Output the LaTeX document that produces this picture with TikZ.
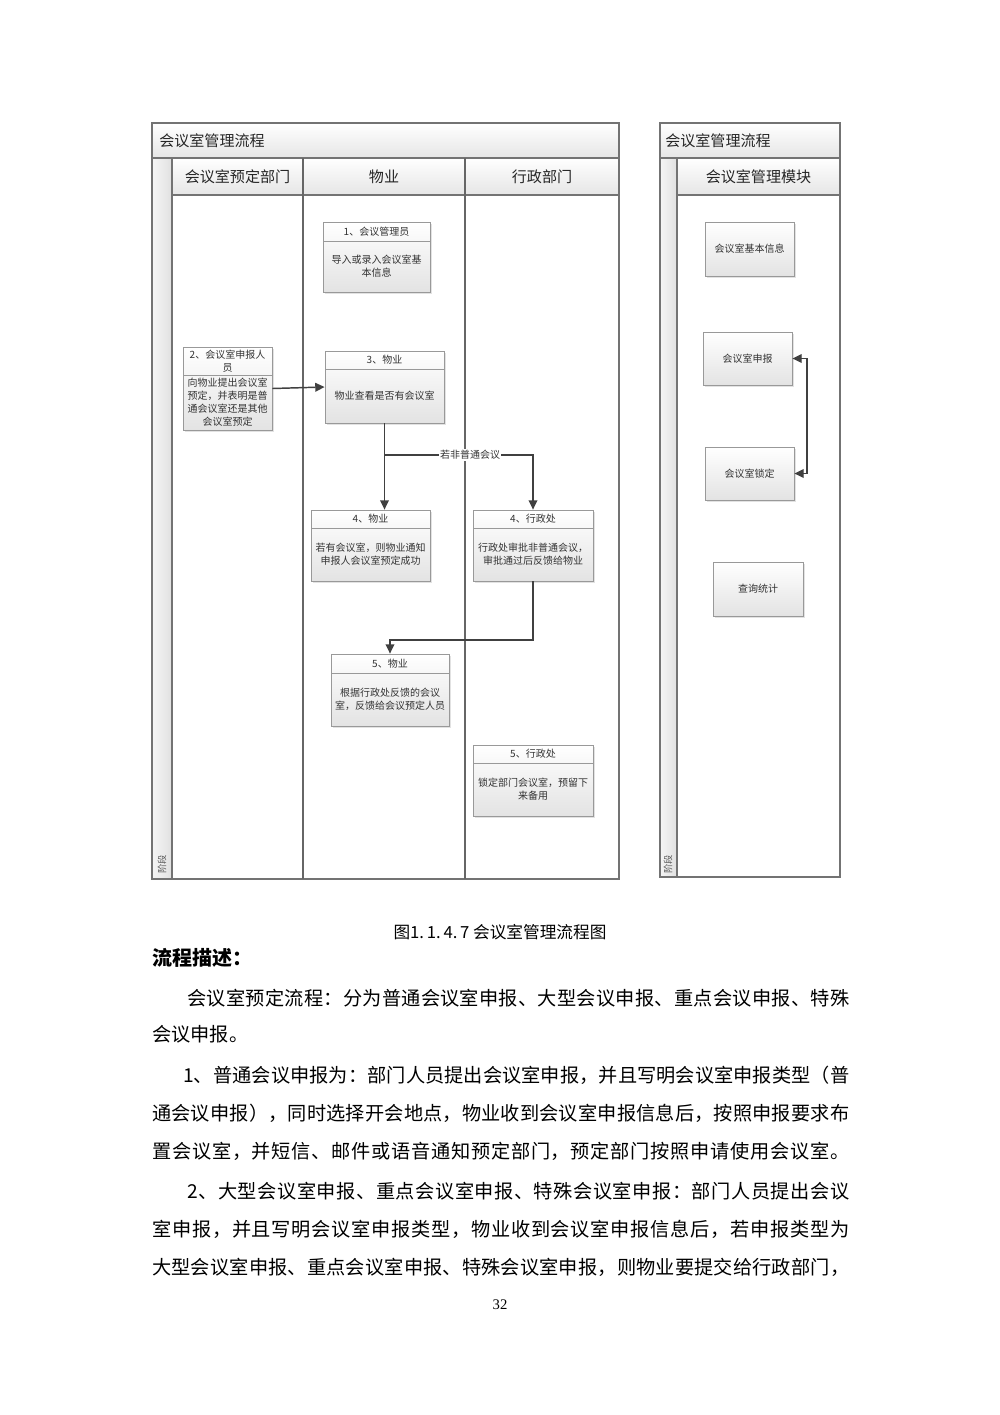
\documentclass[tikz,border=0pt]{standalone}
\usepackage{fontspec}
\setmainfont{Noto Sans CJK SC}
\newfontfamily\cjk{Noto Sans CJK SC}
\newfontfamily\tnr{Liberation Serif}
\usetikzlibrary{arrows.meta,fit,shadows}
\def\sprchars#1{\ifx#1\relax\else #1\hskip 0pt plus 1fil minus 0.4pt\relax\expandafter\sprchars\fi}
\newcommand\jline[2]{\hbox to #1{\sprchars#2\relax\unskip}}
\tikzset{
  frameline/.style={draw=black!55, line width=1pt},
  laneline/.style={draw=black!60, line width=1.1pt},
  barfill/.style={top color=white, bottom color=black!10},
  stripfill/.style={left color=black!4, right color=black!12},
  procbox/.style={draw=black!40, line width=0.6pt, top color=white, bottom color=black!11,
    inner sep=0pt, drop shadow={shadow xshift=1.3pt, shadow yshift=-1.3pt, fill=black!22}},
  boxline/.style={draw=black!40, line width=0.6pt},
  hdrtext/.style={font=\fontsize{7.5pt}{9.6pt}\selectfont, text=black!80, align=center, inner sep=0pt},
  bodytext/.style={font=\fontsize{7.5pt}{9.8pt}\selectfont, text=black!80, align=center, inner sep=0pt},
  titletext/.style={font=\fontsize{11.3pt}{13pt}\selectfont, text=black!85, inner sep=0pt},
  conn/.style={draw=black!75, line width=1.1pt, -{Triangle[length=7pt,width=6.5pt]}},
  biconn/.style={draw=black!75, line width=1.1pt, {Triangle[length=7pt,width=6.5pt]}-{Triangle[length=7pt,width=6.5pt]}},
  lbl/.style={font=\fontsize{7.5pt}{9pt}\selectfont, text=black!80, fill=white, inner sep=1pt},
  vtext/.style={font=\fontsize{7pt}{8pt}\selectfont, text=black!65, rotate=90, inner sep=0pt},
  para/.style={font=\fontsize{14.4pt}{17pt}\selectfont, anchor=west, inner sep=0pt, text=black}
}
\newcommand\flowbox[8]{%
  \node[procbox, fit={(#2,#3)(#4,#5)}] (#1) {};
  \draw[boxline] (#2,#6) -- (#4,#6);
  \node[hdrtext] (#1-h) at ({(#2+#4)/2},{(#3+#6)/2}) {#7};
  \node[bodytext] (#1-b) at ({(#2+#4)/2},{(#6+#5)/2}) {#8};
}
\newcommand\plainbox[6]{%
  \node[procbox, fit={(#2,#3)(#4,#5)}] (#1) {};
  \node[bodytext] (#1-t) at ({(#2+#4)/2},{(#3+#5)/2}) {#6};
}
\begin{document}
\begin{tikzpicture}[x=0.75pt,y=-0.75pt]
\useasboundingbox (0,0) rectangle (1000,1415);
\fill[white] (0,0) rectangle (1000,1415);

% ---------- left swimlane diagram ----------
\path[barfill] (152,123) rectangle (619,158);
\path[barfill] (172,158) rectangle (619,195);
\path[stripfill] (152,158) rectangle (172,879);
\draw[frameline] (152,123) rectangle (619,879);
\draw[frameline] (152,158) -- (619,158);
\draw[frameline] (172,158) -- (172,879);
\draw[frameline] (172,195) -- (619,195);
\draw[laneline] (303,158) -- (303,879);
\draw[laneline] (465,158) -- (465,879);
\node[titletext, anchor=west] (ltitle) at (159,141) {会议室管理流程};
\node[titletext] (lane1) at (237.5,177) {会议室预定部门};
\node[titletext] (lane2) at (384,177) {物业};
\node[titletext] (lane3) at (542,177) {行政部门};
\node[vtext] (lphase) at (162,864) {阶段};

\flowbox{b1}{323}{222}{430}{292}{241}{1、会议管理员}{导入或录入会议室基\\本信息}
\flowbox{b2}{183}{347}{272}{430}{375}{2、会议室申报人\\员}{向物业提出会议室\\预定，并表明是普\\通会议室还是其他\\会议室预定}
\flowbox{b3}{325}{351}{444}{423}{369}{3、物业}{物业查看是否有会议室}
\flowbox{b4a}{311}{510}{430}{581}{528}{4、物业}{若有会议室，则物业通知\\申报人会议室预定成功}
\flowbox{b4b}{473}{510}{593}{581}{528}{4、行政处}{行政处审批非普通会议，\\审批通过后反馈给物业}
\flowbox{b5a}{331}{654}{449}{726}{673}{5、物业}{根据行政处反馈的会议\\室，反馈给会议预定人员}
\flowbox{b5b}{473}{745}{593}{816}{763}{5、行政处}{锁定部门会议室，预留下\\来备用}

\draw[conn] (b2.east) -- (b3.west);
\draw[conn] (b3.south) -- (b3.south |- b4a.north);
\coordinate (br) at (b3.south |- 0,455);
\draw[conn] (br) -| (b4b.north);
\node[lbl] (brl) at (470,455) {若非普通会议};
\coordinate (bk) at (b4b.south |- 0,640);
\draw[conn] (b4b.south) -- (bk) -| (b5a.north);

% ---------- right diagram ----------
\path[barfill] (660,123) rectangle (840,158);
\path[barfill] (677,158) rectangle (840,195);
\path[stripfill] (660,158) rectangle (677,877);
\draw[frameline] (660,123) rectangle (840,877);
\draw[frameline] (660,158) -- (840,158);
\draw[frameline] (677,158) -- (677,877);
\draw[frameline] (677,195) -- (840,195);
\node[titletext, anchor=west] (rtitle) at (665,141) {会议室管理流程};
\node[titletext] (rlane) at (758.5,177) {会议室管理模块};
\node[vtext] (rphase) at (668,864) {阶段};

\plainbox{r1}{705}{222}{794}{276}{会议室基本信息}
\plainbox{r2}{703}{332}{792}{385}{会议室申报}
\plainbox{r3}{705}{447}{794}{500}{会议室锁定}
\plainbox{r4}{713}{562}{803}{616}{查询统计}
\coordinate (rc1) at (807,358.5);
\coordinate (rc2) at (807,473.5);
\draw[biconn] (r2.east) -- (rc1) -- (rc2) -- (r3.east);

% ---------- caption and text ----------
\node[font=\fontsize{12.5pt}{14pt}\selectfont, inner sep=0pt] (cap) at (500,932) {图1.\,1.\,4.\,7 会议室管理流程图};
\node[font=\fontsize{15pt}{17pt}\selectfont\bfseries, anchor=west, inner sep=0pt] (head) at (152,958) {流程描述：};
\node[para] (p1) at (187,998) {\jline{496.5pt}{会议室预定流程：分为普通会议室申报、大型会议申报、重点会议申报、特殊}};
\node[para] (p2) at (152,1034) {会议申报。};
\node[para] (p3) at (183,1075) {\jline{499.5pt}{1、普通会议申报为：部门人员提出会议室申报，并且写明会议室申报类型（普}};
\node[para] (p4) at (152,1113) {\jline{522.75pt}{通会议申报），同时选择开会地点，物业收到会议室申报信息后，按照申报要求布}};
\node[para] (p5) at (152,1151) {\jline{522.75pt}{置会议室，并短信、邮件或语音通知预定部门，预定部门按照申请使用会议室。}};
\node[para] (p6) at (187,1191) {\jline{496.5pt}{2、大型会议室申报、重点会议室申报、特殊会议室申报：部门人员提出会议}};
\node[para] (p7) at (152,1229) {\jline{522.75pt}{室申报，并且写明会议室申报类型，物业收到会议室申报信息后，若申报类型为}};
\node[para] (p8) at (152,1267) {\jline{522.75pt}{大型会议室申报、重点会议室申报、特殊会议室申报，则物业要提交给行政部门，}};
\node[font=\tnr\fontsize{11pt}{13pt}\selectfont, inner sep=0pt] (pgno) at (500,1305) {32};
\end{tikzpicture}
\end{document}
